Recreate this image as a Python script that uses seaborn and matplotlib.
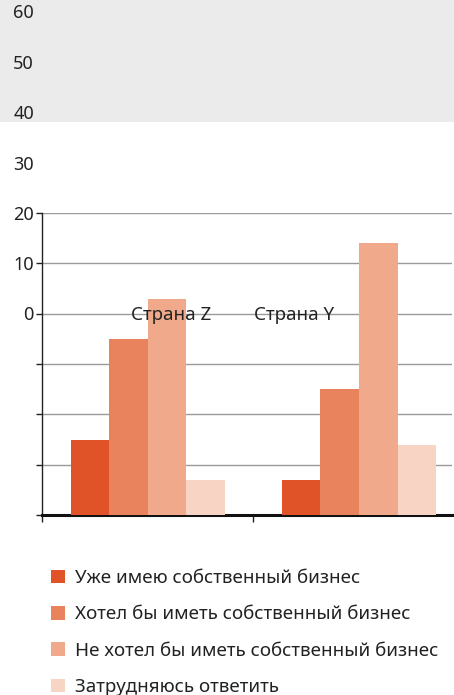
import matplotlib
matplotlib.use("Agg")
import matplotlib.pyplot as plt
import matplotlib.transforms as mtransforms
from matplotlib.patches import Rectangle, Patch
import seaborn as sns
import pandas as pd

countries = ["Страна Z", "Страна Y"]
answers = ["Уже имею собственный бизнес",
           "Хотел бы иметь собственный бизнес",
           "Не хотел бы иметь собственный бизнес",
           "Затрудняюсь ответить"]
values_z = [15, 35, 43, 7]
values_y = [7, 25, 54, 14]
y_ticks = [0, 10, 20, 30, 40, 50, 60]
colors = ["#e05227", "#e9835e", "#f0a98a", "#f7d4c3"]

rows = []
for c, vals in zip(countries, [values_z, values_y]):
    for a, v in zip(answers, vals):
        rows.append({"country": c, "answer": a, "value": v})
df = pd.DataFrame(rows)

sns.set_theme(style="white")
plt.rcParams["font.family"] = ["Noto Sans", "DejaVu Sans"]

W, H = 454, 695
fig = plt.figure(figsize=(W / 100, H / 100), dpi=100)
fig.patch.set_facecolor("white")
fig.patches.append(Rectangle((0, 1 - 122 / H), 1, 122 / H, transform=fig.transFigure,
                             facecolor="#ebebeb", edgecolor="none", zorder=-5))

ax = fig.add_axes([42 / W, (H - 515) / H, 410 / W, 302 / H])
ax.set_facecolor("none")
sns.barplot(data=df, x="country", y="value", hue="answer", hue_order=answers,
            palette=colors, width=0.73, saturation=1, legend=False, ax=ax,
            linewidth=0, zorder=3)

ax.set_ylim(0, 60)
ax.set_xlim(-0.5, 1.44)
ax.set_yticks(y_ticks)
ax.set_yticklabels([])
ax.yaxis.grid(True, color="#9a9a9a", linewidth=1)
ax.set_axisbelow(True)
ax.tick_params(axis="y", left=True, length=4, width=1, color="#222222", direction="out")
ax.set_xticks([-0.5, 0.5])
ax.set_xticklabels([])
ax.tick_params(axis="x", bottom=True, length=5, width=1, color="#222222", direction="out")
ax.set_xlabel("")
ax.set_ylabel("")
for s in ["top", "right"]:
    ax.spines[s].set_visible(False)
ax.spines["left"].set_color("#222222")
ax.spines["left"].set_linewidth(1)
ax.spines["bottom"].set_color("#111111")
ax.spines["bottom"].set_linewidth(2.2)

# y labels (displaced upward as in the reference)
ytrans = ax.get_yaxis_transform() + mtransforms.ScaledTranslation(-8 / 100, 199.5 / 100, fig.dpi_scale_trans)
for v in y_ticks:
    ax.text(0, v, str(v), transform=ytrans, ha="right", va="center",
            fontsize=13, color="#222222", clip_on=False, zorder=10)

# category labels (displaced as in the reference)
label_x = [171, 294.5]
for c, lx in zip(countries, label_x):
    fig.text(lx / W, 1 - 315 / H, c, ha="center", va="center", fontsize=13.5, color="#222222")

handles = [Patch(facecolor=col, edgecolor="none") for col in colors]
fig.legend(handles, answers, loc="upper left", bbox_to_anchor=(51 / W, 1 - 569 / H),
           frameon=False, fontsize=13.5, handlelength=0.75, handleheight=0.75,
           handletextpad=0.55, labelspacing=0.98, borderaxespad=0, borderpad=0,
           labelcolor="#222222")

fig.savefig("out.png", dpi=100)
